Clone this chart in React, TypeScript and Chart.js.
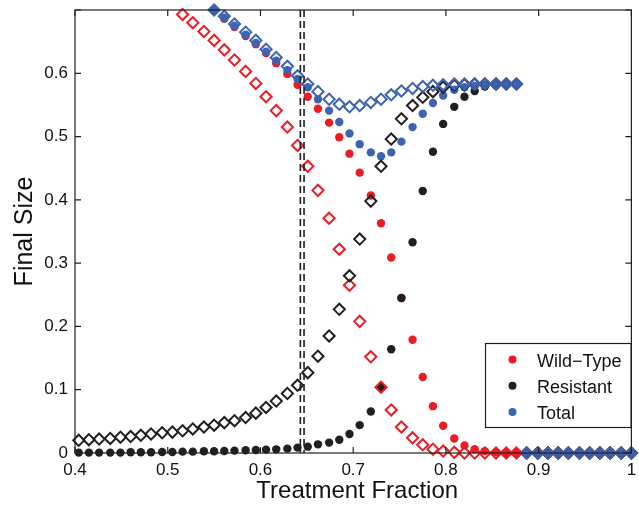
import React, { useEffect, useRef } from "react";
import { Chart, registerables } from "chart.js";

Chart.register(...registerables);

// Treatment fraction sample points
const X_VALUES = [
  0.404, 0.415, 0.426, 0.438, 0.449, 0.46, 0.471, 0.482, 0.494, 0.505,
  0.516, 0.527, 0.539, 0.55, 0.561, 0.572, 0.584, 0.595, 0.606, 0.617,
  0.629, 0.64, 0.651, 0.662, 0.674, 0.685, 0.696, 0.707, 0.719, 0.73,
  0.741, 0.752, 0.764, 0.775, 0.786, 0.797, 0.809, 0.82, 0.831, 0.842,
  0.854, 0.865, 0.876, 0.887, 0.899, 0.91, 0.921, 0.932, 0.944, 0.955,
  0.966, 0.977, 0.989, 1.0,
];

// Filled circles
const WILD_CIRCLE = [
  null, null, null, null, null, null, null, null, null, null,
  null, null, null, 0.699, 0.686, 0.673, 0.659, 0.646, 0.632, 0.616,
  0.599, 0.582, 0.563, 0.544, 0.522, 0.499, 0.473, 0.443, 0.407, 0.363,
  0.309, 0.245, 0.179, 0.12, 0.074, 0.043, 0.023, 0.012, 0.006, 0.003,
  0.001, 0, 0, 0, 0, 0, 0, 0, 0, 0,
  0, 0, 0, 0,
];
const RES_CIRCLE = [
  0.0006, 0.0006, 0.0006, 0.0006, 0.0006, 0.0011, 0.0011, 0.0011, 0.0016, 0.0016,
  0.0022, 0.0022, 0.0027, 0.0027, 0.0032, 0.0038, 0.0043, 0.0048, 0.0053, 0.0058,
  0.0069, 0.0085, 0.01, 0.0137, 0.0164, 0.021, 0.03, 0.044, 0.0655, 0.104,
  0.164, 0.245, 0.333, 0.414, 0.476, 0.52, 0.547, 0.563, 0.572, 0.579,
  0.581, 0.582, 0.583, 0, 0, 0, 0, 0, 0, 0,
  0, 0, 0, 0,
];
const TOTAL_CIRCLE = [
  null, null, null, null, null, null, null, null, null, null,
  null, null, null, 0.7, 0.688, 0.675, 0.661, 0.648, 0.634, 0.62,
  0.605, 0.591, 0.578, 0.559, 0.541, 0.523, 0.505, 0.488, 0.475, 0.469,
  0.475, 0.492, 0.515, 0.536, 0.553, 0.565, 0.574, 0.578, 0.58, 0.582,
  0.583, 0.583, 0.583, 0, 0, 0, 0, 0, 0, 0,
  0, 0, 0, 0,
];

// Open diamonds
const WILD_DIAMOND = [
  null, null, null, null, null, null, null, null, null, null,
  0.693, 0.68, 0.666, 0.652, 0.637, 0.621, 0.603, 0.584, 0.563, 0.541,
  0.515, 0.486, 0.453, 0.415, 0.371, 0.322, 0.265, 0.208, 0.152, 0.104,
  0.068, 0.041, 0.024, 0.013, 0.006, 0.003, 0.001, 0, 0, 0,
  0, 0, 0, 0, 0, 0, 0, 0, 0, 0,
  0, 0, 0, 0,
];
const RES_DIAMOND = [
  0.02, 0.021, 0.022, 0.023, 0.025, 0.026, 0.028, 0.03, 0.032, 0.033,
  0.035, 0.038, 0.041, 0.044, 0.048, 0.051, 0.056, 0.063, 0.072, 0.082,
  0.094, 0.107, 0.127, 0.153, 0.185, 0.227, 0.28, 0.338, 0.398, 0.453,
  0.496, 0.528, 0.549, 0.562, 0.571, 0.578, 0.581, 0.582, 0.583, 0.583,
  0.583, 0.583, 0.583, 0, 0, 0, 0, 0, 0, 0,
  0, 0, 0, 0,
];
const TOTAL_DIAMOND = [
  null, null, null, null, null, null, null, null, null, null,
  null, null, null, 0.7, 0.69, 0.678, 0.665, 0.652, 0.638, 0.625,
  0.611, 0.596, 0.583, 0.571, 0.559, 0.551, 0.547, 0.549, 0.554, 0.559,
  0.566, 0.572, 0.576, 0.579, 0.581, 0.582, 0.583, 0.583, 0.583, 0.583,
  0.583, 0.583, 0.583, 0, 0, 0, 0, 0, 0, 0,
  0, 0, 0, 0,
];

const THRESHOLD_LINES = [0.643, 0.647];
const X_TICKS = [0.4, 0.5, 0.6, 0.7, 0.8, 0.9, 1.0];
const Y_TICKS = [0, 0.1, 0.2, 0.3, 0.4, 0.5, 0.6, 0.7];
const LEGEND_LABELS = ["Wild\u2212Type", "Resistant", "Total"];
const X_TITLE = "Treatment Fraction";
const Y_TITLE = "Final Size";

const RED = "#ed1c24";
const BLACK = "#231f20";
const BLUE = "#3d64b0";
const AXIS = "#231f20";
const FONT = "'Liberation Sans', Arial, Helvetica, sans-serif";

function toPoints(ys: (number | null)[]) {
  const out: { x: number; y: number }[] = [];
  ys.forEach((y, i) => {
    if (y !== null) out.push({ x: X_VALUES[i], y });
  });
  return out;
}

const framePlugin = {
  id: "frame",
  afterDatasetsDraw(chart: any) {
    const { ctx, chartArea: a, scales } = chart;
    const xs = scales.x;
    const ys = scales.y;
    ctx.save();
    // threshold dashed lines
    ctx.strokeStyle = BLACK;
    ctx.lineWidth = 1.6;
    ctx.setLineDash([7, 4]);
    THRESHOLD_LINES.forEach((v) => {
      const px = xs.getPixelForValue(v);
      ctx.beginPath();
      ctx.moveTo(px, a.top);
      ctx.lineTo(px, a.bottom);
      ctx.stroke();
    });
    ctx.setLineDash([]);
    // box
    ctx.strokeStyle = AXIS;
    ctx.lineWidth = 1.2;
    ctx.strokeRect(a.left, a.top, a.right - a.left, a.bottom - a.top);
    // inward ticks
    const tl = 6;
    ctx.beginPath();
    X_TICKS.forEach((v) => {
      const px = xs.getPixelForValue(v);
      ctx.moveTo(px, a.bottom);
      ctx.lineTo(px, a.bottom - tl);
      ctx.moveTo(px, a.top);
      ctx.lineTo(px, a.top + tl);
    });
    Y_TICKS.forEach((v) => {
      const py = ys.getPixelForValue(v);
      ctx.moveTo(a.left, py);
      ctx.lineTo(a.left + tl, py);
      ctx.moveTo(a.right, py);
      ctx.lineTo(a.right - tl, py);
    });
    ctx.stroke();

    // axis titles
    ctx.fillStyle = "#111";
    ctx.font = `24px ${FONT}`;
    ctx.textAlign = "center";
    ctx.textBaseline = "alphabetic";
    ctx.fillText(X_TITLE, (a.left + a.right) / 2 + 4, 498);
    ctx.save();
    ctx.translate(32, (a.top + a.bottom) / 2);
    ctx.rotate(-Math.PI / 2);
    ctx.font = `25px ${FONT}`;
    ctx.fillText(Y_TITLE, 0, 0);
    ctx.restore();

    // legend
    const bx = 485.5, by = 343.5, bw = 145.5, bh = 84;
    ctx.fillStyle = "#fff";
    ctx.fillRect(bx, by, bw, bh);
    ctx.strokeStyle = BLACK;
    ctx.lineWidth = 1.2;
    ctx.strokeRect(bx, by, bw, bh);
    const legendSets = chart.data.datasets.filter((d: any) => d.legend);
    legendSets.forEach((d: any, k: number) => {
      const cy = 359.5 + k * 26.3;
      ctx.beginPath();
      ctx.fillStyle = d.backgroundColor;
      ctx.arc(512.5, cy, 4, 0, Math.PI * 2);
      ctx.fill();
      ctx.fillStyle = "#111";
      ctx.font = `18px ${FONT}`;
      ctx.textAlign = "left";
      ctx.textBaseline = "alphabetic";
      ctx.fillText(d.label, 537, cy + 7);
    });
    ctx.restore();
  },
};

export default function App() {
  const ref = useRef<HTMLCanvasElement | null>(null);

  useEffect(() => {
    document.body.style.margin = "0";
    const canvas = ref.current;
    if (!canvas) return;

    const circle = (label: string, color: string, ys: (number | null)[], order: number) => ({
      label,
      legend: true,
      data: toPoints(ys),
      pointStyle: "circle",
      pointRadius: 4.2,
      pointBackgroundColor: color,
      backgroundColor: color,
      pointBorderWidth: 0,
      borderWidth: 0,
      showLine: false,
      clip: false,
      order,
    });
    const diamond = (label: string, color: string, ys: (number | null)[], order: number) => ({
      label,
      legend: false,
      data: toPoints(ys),
      pointStyle: "rectRot",
      pointRadius: 5.6,
      pointBackgroundColor: "rgba(0,0,0,0)",
      pointBorderColor: color,
      backgroundColor: "rgba(0,0,0,0)",
      borderColor: color,
      pointBorderWidth: 2,
      showLine: false,
      clip: false,
      order,
    });

    const chart = new Chart(canvas, {
      type: "scatter",
      data: {
        datasets: [
          circle(LEGEND_LABELS[0], RED, WILD_CIRCLE, 6),
          circle(LEGEND_LABELS[1], BLACK, RES_CIRCLE, 5),
          circle(LEGEND_LABELS[2], BLUE, TOTAL_CIRCLE, 4),
          diamond("Wild-Type (diamond)", RED, WILD_DIAMOND, 3),
          diamond("Resistant (diamond)", BLACK, RES_DIAMOND, 2),
          diamond("Total (diamond)", BLUE, TOTAL_DIAMOND, 1),
        ] as any,
      },
      options: {
        animation: false,
        responsive: false,
        devicePixelRatio: 1,
        layout: { padding: { top: 10, right: 1.5, left: 0, bottom: 0 } },
        plugins: { legend: { display: false }, tooltip: { enabled: false } },
        scales: {
          x: {
            type: "linear",
            min: 0.4,
            max: 1,
            grid: { display: false, drawTicks: false },
            border: { display: false },
            afterBuildTicks: (s: any) => {
              s.ticks = X_TICKS.map((v) => ({ value: v }));
            },
            afterFit: (s: any) => {
              s.height = 52;
              s.paddingLeft = 0;
              s.paddingRight = 0;
            },
            ticks: {
              padding: 7,
              color: "#111",
              font: { family: FONT, size: 17 },
              maxRotation: 0,
              callback: (v: any) => (Math.abs(v - 1) < 1e-9 ? "1" : Number(v).toFixed(1)),
            },
          },
          y: {
            type: "linear",
            min: 0,
            max: 0.7,
            grid: { display: false, drawTicks: false },
            border: { display: false },
            afterBuildTicks: (s: any) => {
              s.ticks = Y_TICKS.map((v) => ({ value: v }));
            },
            afterFit: (s: any) => {
              s.width = 75;
              s.paddingTop = 0;
              s.paddingBottom = 0;
            },
            ticks: {
              padding: 7,
              color: "#111",
              font: { family: FONT, size: 17 },
              callback: (v: any) => {
                if (Math.abs(v) < 1e-9) return "0";
                if (Math.abs(v - 0.7) < 1e-9) return "";
                return Number(v).toFixed(1);
              },
            },
          },
        },
      },
      plugins: [framePlugin],
    } as any);

    return () => chart.destroy();
  }, []);

  return (
    <div style={{ width: 639, height: 505 }}>
      <canvas ref={ref} width={639} height={505} style={{ display: "block", width: 639, height: 505 }} />
    </div>
  );
}
